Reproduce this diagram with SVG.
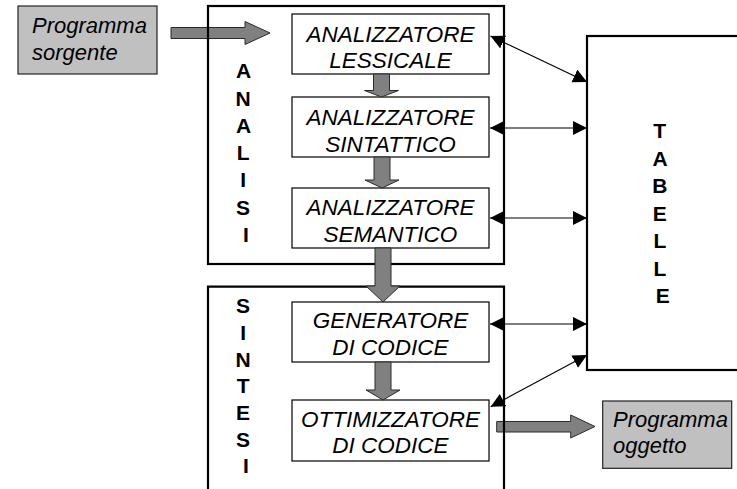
<svg xmlns="http://www.w3.org/2000/svg" width="737" height="489" viewBox="0 0 737 489">
  <style>
    .frame { fill: none; stroke: #000; stroke-width: 2.2; }
    .stage { fill: #fff; stroke: #000; stroke-width: 1.2; }
    .io { fill: #c0c0c0; stroke: #222; stroke-width: 1.2; }
    .flow { fill: #808080; stroke: #2a2a2a; stroke-width: 1; }
    .link { stroke: #000; stroke-width: 1.2; fill: none; marker-start: url(#head); marker-end: url(#head); }
    .lbl { font-family: "Liberation Sans", Arial, sans-serif; font-style: italic; font-size: 22.5px; fill: #000; }
    .io-lbl { font-family: "Liberation Sans", Arial, sans-serif; font-style: italic; font-size: 22px; fill: #000; }
    .vert { font-family: "Liberation Sans", Arial, sans-serif; font-weight: bold; font-size: 21px; fill: #000; text-anchor: middle; }
  </style>
  <defs>
    <marker id="head" markerUnits="userSpaceOnUse" markerWidth="15" markerHeight="15" refX="14" refY="7" orient="auto-start-reverse">
      <path d="M0,0 L14,7 L0,14 Z" fill="#000"/>
    </marker>
  </defs>

  <!-- source program feeding the front end -->
  <g id="programma-sorgente">
    <rect class="io" x="18" y="6" width="139" height="68"/>
    <text class="io-lbl" x="32" y="33">Programma</text>
    <text class="io-lbl" x="32" y="60">sorgente</text>
  </g>
  <path id="flow-in" class="flow" d="M171,27.5 H245 V21.5 L270,33 L245,44.5 V38.5 H171 Z"/>

  <!-- analysis phase -->
  <g id="analisi">
    <rect class="frame" x="208" y="6" width="296" height="258"/>
    <text class="vert">
      <tspan x="246" y="78.3">A</tspan>
      <tspan x="246" y="105.5">N</tspan>
      <tspan x="246" y="132.8">A</tspan>
      <tspan x="246" y="160">L</tspan>
      <tspan x="246" y="187.2">I</tspan>
      <tspan x="246" y="214.5">S</tspan>
      <tspan x="246" y="241.7">I</tspan>
    </text>
  </g>

  <g id="analizzatore-lessicale">
    <rect class="stage" x="292" y="14" width="197" height="60"/>
    <text class="lbl" x="390.5" y="41.7" text-anchor="middle">ANALIZZATORE</text>
    <text class="lbl" x="390.5" y="68.3" text-anchor="middle">LESSICALE</text>
  </g>
  <g id="analizzatore-sintattico">
    <rect class="stage" x="292" y="97" width="197" height="60"/>
    <text class="lbl" x="390.5" y="125" text-anchor="middle">ANALIZZATORE</text>
    <text class="lbl" x="390.5" y="151.7" text-anchor="middle">SINTATTICO</text>
  </g>
  <g id="analizzatore-semantico">
    <rect class="stage" x="292" y="188" width="197" height="60"/>
    <text class="lbl" x="390.5" y="215" text-anchor="middle">ANALIZZATORE</text>
    <text class="lbl" x="390.5" y="241.7" text-anchor="middle">SEMANTICO</text>
  </g>

  <!-- synthesis phase (frame runs off the bottom edge) -->
  <path id="flow-out" class="flow" d="M496.7,421.5 H570.7 V415 L595,426.5 L570.7,438 V432 H496.7 Z"/>
  <g id="sintesi">
    <path class="frame" d="M208,495 V286.7 H504 V495"/>
    <text class="vert">
      <tspan x="246" y="313.3">S</tspan>
      <tspan x="246" y="340">I</tspan>
      <tspan x="246" y="366.7">N</tspan>
      <tspan x="246" y="393.3">T</tspan>
      <tspan x="246" y="420">E</tspan>
      <tspan x="246" y="446.7">S</tspan>
      <tspan x="246" y="473.3">I</tspan>
    </text>
  </g>

  <g id="generatore-di-codice">
    <rect class="stage" x="292" y="302" width="197" height="60"/>
    <text class="lbl" x="390.5" y="328.3" text-anchor="middle">GENERATORE</text>
    <text class="lbl" x="390.5" y="355" text-anchor="middle">DI CODICE</text>
  </g>
  <g id="ottimizzatore-di-codice">
    <rect class="stage" x="292" y="400" width="197" height="61"/>
    <text class="lbl" x="390.5" y="426.7" text-anchor="middle">OTTIMIZZATORE</text>
    <text class="lbl" x="390.5" y="453.3" text-anchor="middle">DI CODICE</text>
  </g>

  <!-- symbol tables shared by every stage -->
  <g id="tabelle">
    <rect class="frame" x="587" y="36" width="160" height="334"/>
    <text class="vert">
      <tspan x="662.7" y="138.3">T</tspan>
      <tspan x="662.7" y="165.8">A</tspan>
      <tspan x="662.7" y="193.3">B</tspan>
      <tspan x="662.7" y="220.8">E</tspan>
      <tspan x="662.7" y="248.3">L</tspan>
      <tspan x="662.7" y="275.8">L</tspan>
      <tspan x="662.7" y="303.3">E</tspan>
    </text>
  </g>

  <g id="programma-oggetto">
    <rect class="io" x="602.7" y="401" width="129" height="67.3"/>
    <text class="io-lbl" x="613" y="427.3">Programma</text>
    <text class="io-lbl" x="613" y="453.3">oggetto</text>
  </g>

  <!-- stage-to-stage flow arrows -->
  <g id="flow">
    <path class="flow" d="M373.5,74 H389.5 V90.5 H398.5 L381.5,97 L364.5,90.5 H373.5 Z"/>
    <path class="flow" d="M374,157 H390 V180 H399 L382,188 L365,180 H374 Z"/>
    <path class="flow" d="M375,248 H391 V286 H400 L383,302 L366,286 H375 Z"/>
    <path class="flow" d="M375,362 H391 V390 H400 L383,400 L366,390 H375 Z"/>
  </g>

  <!-- two-way table accesses -->
  <g id="connectors">
    <line class="link" x1="490.5" y1="36" x2="587" y2="82"/>
    <line class="link" x1="490" y1="128" x2="587" y2="128"/>
    <line class="link" x1="490" y1="218" x2="587" y2="218"/>
    <line class="link" x1="490" y1="324" x2="587" y2="324"/>
    <line class="link" x1="490.7" y1="406.7" x2="587" y2="355"/>
  </g>
</svg>
